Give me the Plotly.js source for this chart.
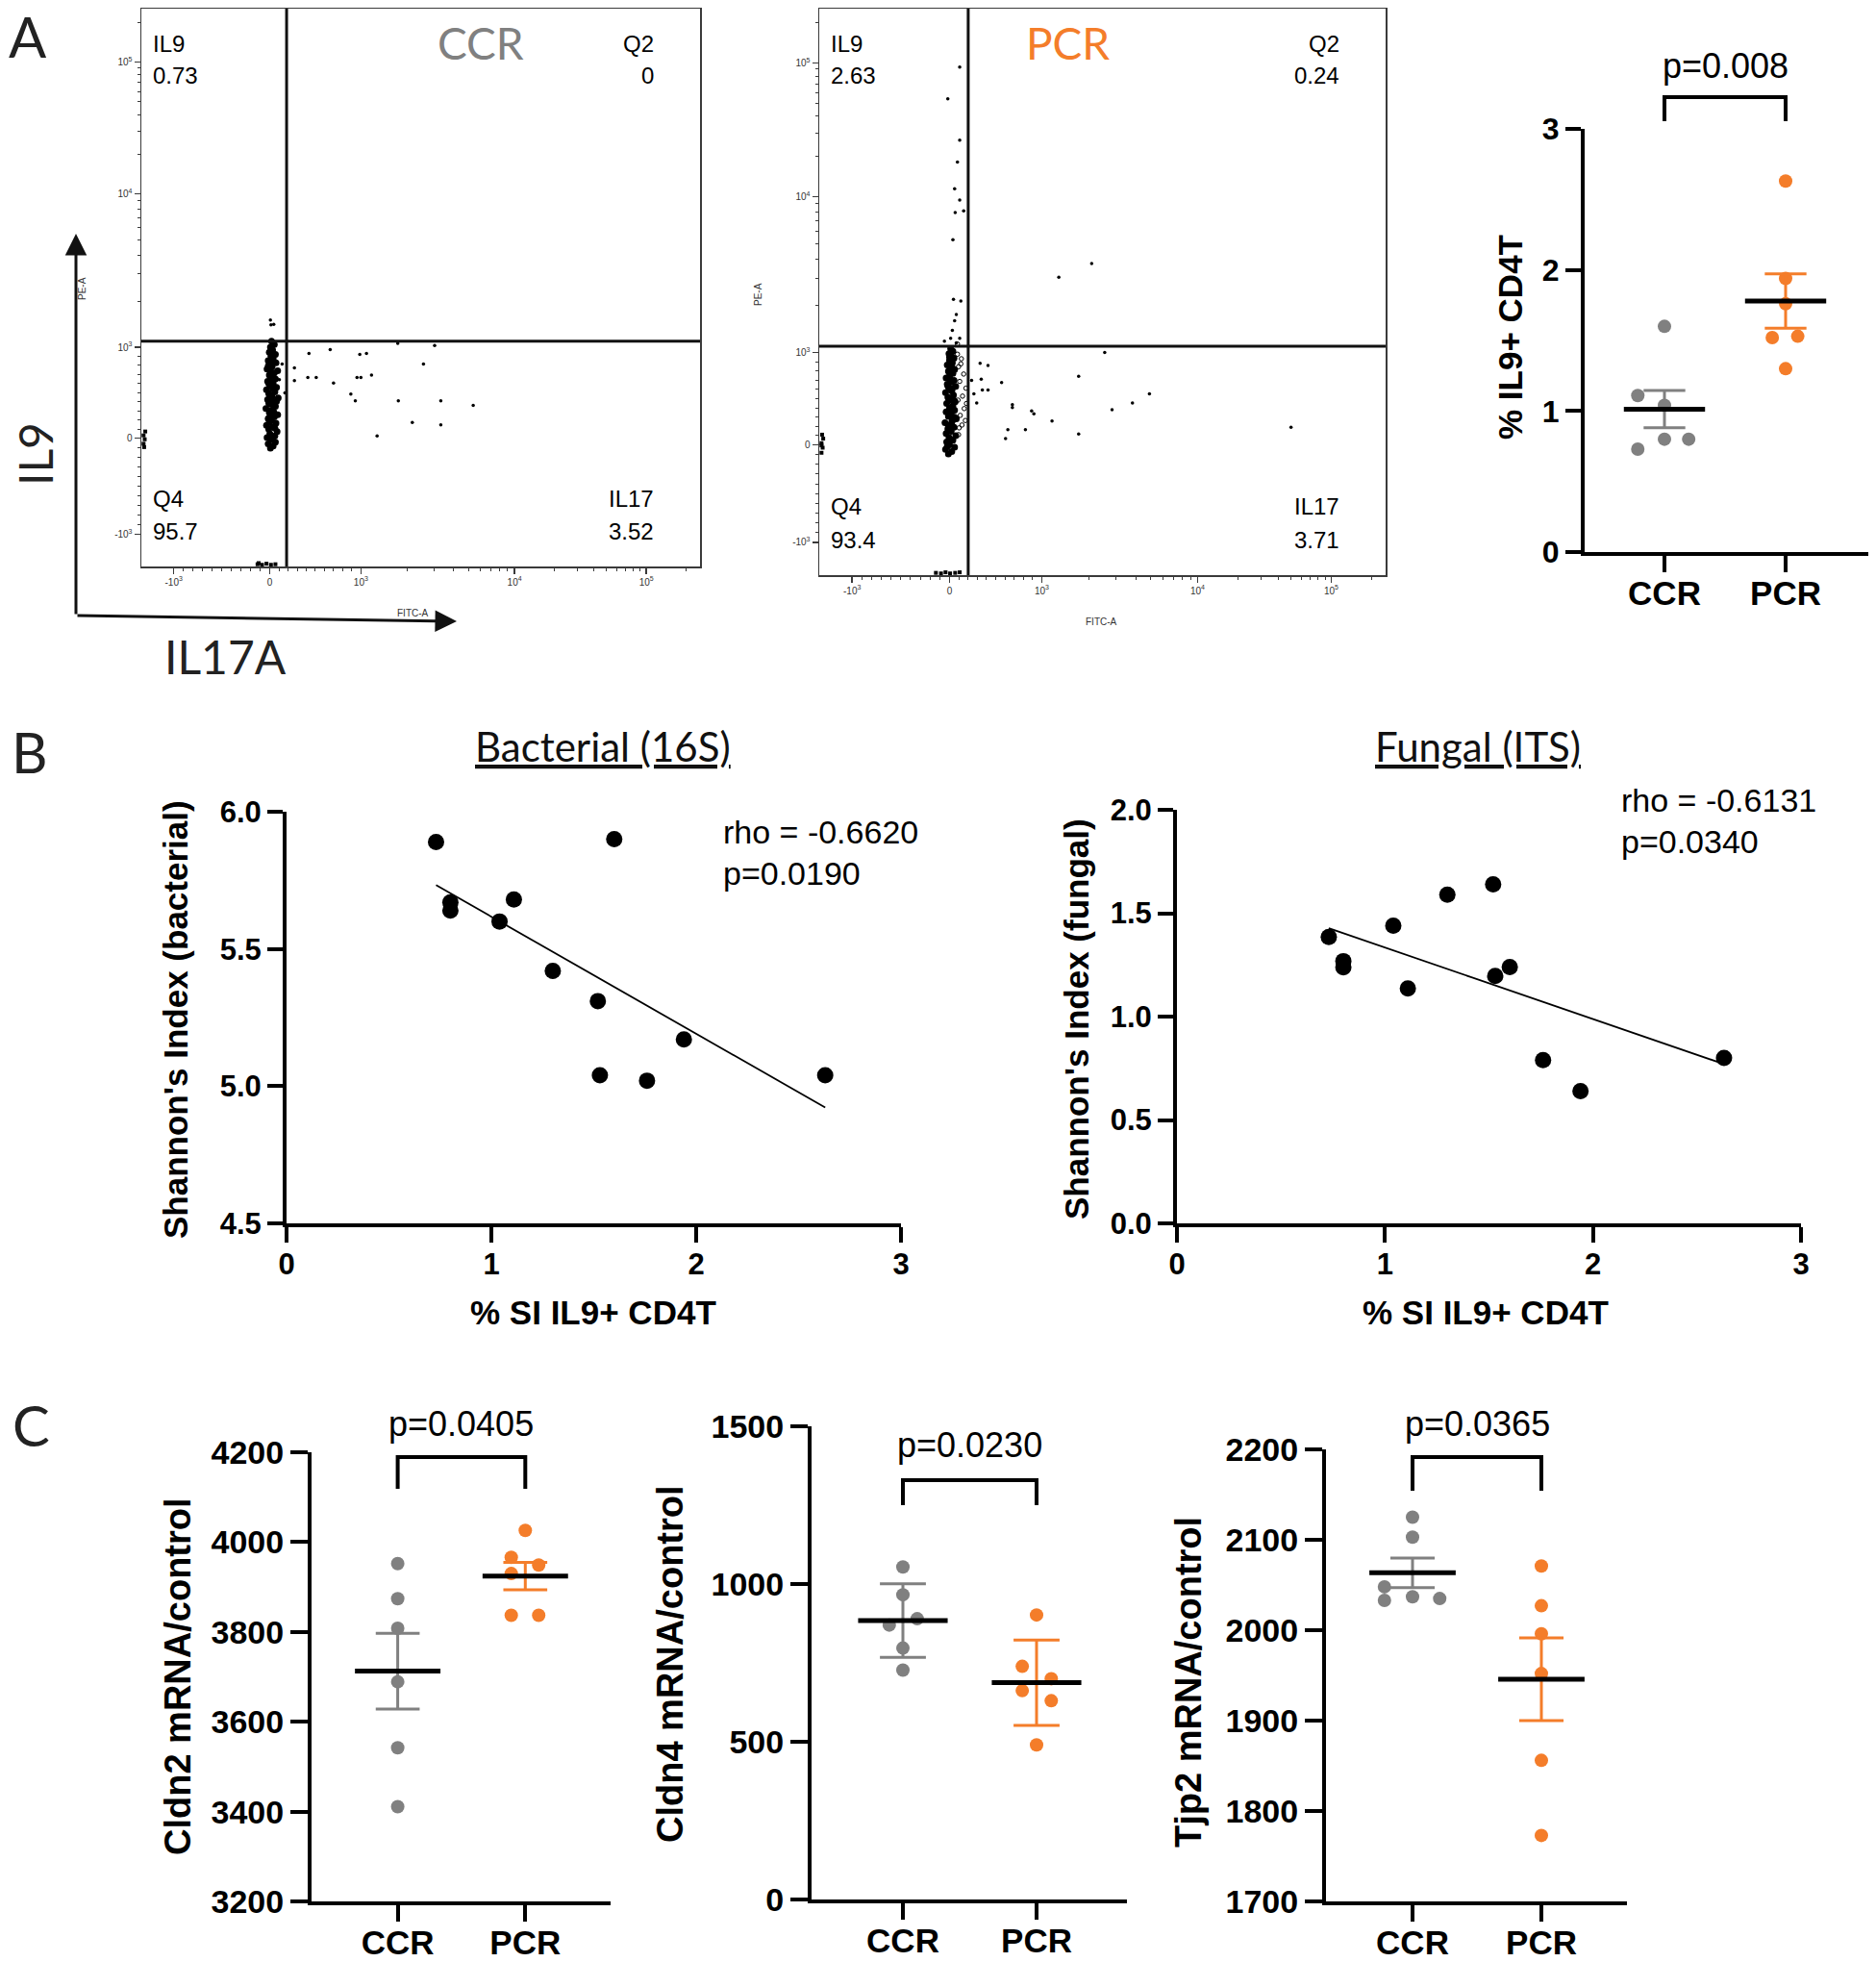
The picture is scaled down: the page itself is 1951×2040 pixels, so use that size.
<!DOCTYPE html>
<html><head><meta charset="utf-8">
<script src="https://cdn.plot.ly/plotly-3.0.1.min.js"></script>
<style>html,body{margin:0;padding:0;background:#fff;} #chart{width:1951px;height:2040px;}</style>
</head><body><div id="chart"></div>
<script>
// ================= DATA =================
const groups = ['CCR', 'PCR'];

// --- A: flow cytometry (display channel units, 0-100 of biexponential scale) ---
const flowTickPos  = [5.8, 23.0, 39.3, 66.8, 90.4];
const flowTickText = ['-10<sup>3</sup>', '0', '10<sup>3</sup>', '10<sup>4</sup>', '10<sup>5</sup>'];
const quadNames  = ['IL9', 'Q2', 'Q4', 'IL17'];
const ccrQuadPct = ['0.73', '0', '95.7', '3.52'];
const pcrQuadPct = ['2.63', '0.24', '93.4', '3.71'];
const ccrGate = [26.0, 40.4];
const pcrGate = [26.3, 40.4];

const ccrBlobX = [23.1,23.6,22.7,24.0,23.3,22.5,23.9,23.0,24.3,22.8,23.5,22.4,24.1,23.2,22.7,23.8,24.4,22.9,23.4,22.3,24.0,23.1,23.7,22.6,24.5,23.3,22.8,23.9,22.4,24.2,23.0,23.6,22.6,24.0,23.2,22.9,23.8,24.4,22.5,23.4,23.0,24.1,22.7,23.6,23.2,24.0,22.9,23.5,23.1,23.8,23.3,23.5,22.9,23.7,23.0,23.5,23.4,23.1,23.3,22.8,24.2,23.9,23.2,23.7,22.8,23.6,23.1,23.9,22.7,23.4,23.0,23.6];
const ccrBlobY = [21.2,21.6,22.0,22.3,22.7,23.1,23.4,23.8,24.2,24.6,25.0,25.3,25.7,26.1,26.5,26.8,27.2,27.6,28.0,28.3,28.7,29.1,29.5,29.9,30.2,30.6,31.0,31.3,31.7,32.1,32.5,32.8,33.2,33.6,34.0,34.3,34.7,35.1,35.4,35.8,36.2,36.5,36.9,37.3,37.7,38.0,38.4,38.8,39.3,39.8,40.4,22.9,25.8,27.7,30.2,31.8,33.5,35.2,37.0,32.8,29.6,24.8,26.9,28.9,29.3,32.3,34.6,31.9,35.9,30.4,27.9,36.8];
const ccrSparseX = [27.4,30.0,27.4,29.8,31.3,33.8,34.4,37.5,38.3,39.1,40.3,38.6,39.3,41.2,42.2,45.9,46.0,48.5,50.5,52.5,53.6,53.6,59.4,23.1,23.7,23.2,25.7,25.2,24.7];
const ccrSparseY = [35.6,38.2,33.3,33.9,33.9,38.9,32.9,30.9,29.7,38.0,38.2,33.9,33.9,34.3,23.4,40.0,29.7,25.8,36.3,39.6,29.7,25.4,28.9,44.2,43.4,43.3,31.1,36.3,33.5];
const ccrEdgeX = [0.4,0.6,0.4,0.7,0.5,20.8,21.6,22.4,23.2,24.0,21.0];
const ccrEdgeY = [22.0,22.8,23.5,24.2,21.4,0.4,0.3,0.5,0.3,0.4,0.6];

const pcrBlobX = [22.8,23.4,22.3,23.9,23.0,22.5,23.6,22.9,24.1,22.4,23.3,22.7,23.8,23.1,22.2,23.5,24.2,22.8,23.3,22.4,23.9,23.0,23.6,22.5,24.0,23.2,22.7,23.7,22.3,23.4,22.9,24.1,22.6,23.3,23.8,22.4,23.0,23.6,22.8,23.9,23.2,22.6,23.5,23.0,23.8,23.3,22.9,23.6,23.2,23.1,23.4,22.9,23.5,23.2,23.0,22.6,23.9,23.3,22.8,23.6,23.1,22.7,23.4];
const pcrBlobY = [21.4,21.8,22.2,22.6,23.0,23.5,23.8,24.3,24.6,25.0,25.4,25.8,26.1,26.5,26.9,27.3,27.6,28.0,28.4,28.8,29.1,29.5,29.9,30.3,30.6,31.0,31.4,31.8,32.2,32.5,32.9,33.3,33.7,34.1,34.4,34.8,35.2,35.6,36.0,36.3,36.7,37.1,37.5,37.9,38.3,38.7,39.1,39.5,40.0,24.0,27.0,30.8,33.0,35.9,38.5,22.7,27.9,29.3,26.3,31.2,34.6,33.4,36.9];
const pcrFringeX = [24.6,25.2,24.9,25.6,24.5,25.3,25.9,24.8,25.5,24.6,25.1,24.4,25.8,24.7,26.0,25.0,24.4];
const pcrFringeY = [24.8,26.5,28.2,29.4,30.9,31.6,33.0,34.2,35.5,36.8,38.2,39.0,27.3,26.0,30.3,37.3,40.8];
const pcrSparseX = [24.8,22.7,24.8,24.4,23.9,24.8,24.0,25.5,23.6,23.7,25.0,24.2,23.9,23.5,23.2,24.8,22.1,24.2,42.3,48.1,28.4,29.8,50.4,26.9,28.6,32.2,45.8,28.8,29.8,27.3,58.3,27.8,34.1,34.1,55.3,37.5,37.9,51.7,41.1,36.4,33.3,83.3,32.9,45.8];
const pcrSparseY = [89.7,84.1,76.8,72.9,68.2,66.2,64.0,64.3,59.2,48.7,48.4,46.0,44.9,43.2,41.8,41.8,41.3,41.0,52.6,55.0,37.4,37.0,39.3,34.4,34.6,34.0,35.1,32.7,32.7,32.0,32.0,30.4,30.1,29.6,30.4,29.0,28.5,29.2,27.2,25.7,25.7,26.1,24.1,24.9];
const pcrEdgeX = [0.4,0.6,0.4,0.7,0.5,0.4,20.6,21.5,22.3,23.1,24.0,24.8];
const pcrEdgeY = [21.6,22.5,23.3,24.1,24.8,22.9,0.4,0.3,0.5,0.3,0.4,0.5];

// --- A: % IL9+ CD4T ---
const il9CCR = [1.60, 1.11, 1.04, 0.73, 0.80, 0.80];
const il9CCRSpread = [0, -0.22, 0, -0.22, 0, 0.20];
const il9PCR = [2.63, 1.94, 1.76, 1.52, 1.53, 1.30];
const il9PCRSpread = [0, 0, 0, -0.11, 0.10, 0];
const il9P = 'p=0.008';

// --- B: Shannon index vs % SI IL9+ CD4T ---
const siIL9 = [0.73, 0.80, 0.80, 1.04, 1.11, 1.30, 1.52, 1.53, 1.60, 1.76, 1.94, 2.63];
const shannonBact = [5.89, 5.67, 5.64, 5.60, 5.68, 5.42, 5.31, 5.04, 5.90, 5.02, 5.17, 5.04];
const shannonFungal = [1.385, 1.268, 1.238, 1.44, 1.136, 1.59, 1.64, 1.196, 1.24, 0.79, 0.64, 0.80];
const bactStats = ['rho = -0.6620', 'p=0.0190'];
const fungalStats = ['rho = -0.6131', 'p=0.0340'];

// --- C: tight junction mRNA ---
const cldn2CCR = [3952, 3874, 3808, 3689, 3542, 3411];
const cldn2CCRSpread = [0, 0, 0, 0, 0, 0];
const cldn2PCR = [4026, 3966, 3949, 3930, 3837, 3837];
const cldn2PCRSpread = [0, -0.11, 0.105, -0.11, -0.11, 0.105];
const cldn4CCR = [1054, 966, 890, 870, 797, 727];
const cldn4CCRSpread = [0, 0, 0.107, -0.102, 0, 0];
const cldn4PCR = [902, 739, 700, 662, 630, 490];
const cldn4PCRSpread = [0, -0.107, 0.11, -0.107, 0.11, 0];
const tjp2CCR = [2125, 2103, 2048, 2033, 2037, 2035];
const tjp2CCRSpread = [0, 0, -0.218, -0.218, 0, 0.211];
const tjp2PCR = [2071, 2027, 1996, 1952, 1856, 1773];
const tjp2PCRSpread = [0, 0, 0, 0, 0, 0];
const cPvals = ['p=0.0405', 'p=0.0230', 'p=0.0365'];

// ================= STYLE / LAYOUT HELPERS =================
const W = 1951, H = 2040;
const fx = v => v / W;
const fy = v => 1 - v / H;
const GREY = '#808080', ORANGE = '#F47D2A';
const GP = 'Liberation Sans, Arial, sans-serif';
const CAL = 'Lato, sans-serif';

function mean(a) { return a.reduce((s, v) => s + v, 0) / a.length; }
function sd(a) { const m = mean(a); return Math.sqrt(a.reduce((s, v) => s + (v - m) * (v - m), 0) / (a.length - 1)); }
function sem(a) { return sd(a) / Math.sqrt(a.length); }

function flowMinors() {
  const p = flowTickPos, out = [];
  for (let i = 1; i <= 9; i++) { out.push(p[1] - i / 10 * (p[1] - p[0])); out.push(p[1] + i / 10 * (p[2] - p[1])); }
  for (let k = 2; k <= 9; k++) {
    out.push(p[2] + Math.log10(k) * (p[3] - p[2]));
    out.push(p[3] + Math.log10(k) * (p[4] - p[3]));
    const q = p[4] + Math.log10(k) * (p[4] - p[3]);
    if (q < 100) out.push(q);
  }
  return out;
}

function flowAxis(domain, anchor) {
  return {domain: domain, anchor: anchor, range: [0, 100], showline: true, mirror: true, linewidth: 1.5, linecolor: '#3a3a3a',
    ticks: 'outside', ticklen: 6, tickwidth: 1.5, tickcolor: '#3a3a3a', tickmode: 'array', tickvals: flowTickPos, ticktext: flowTickText,
    tickfont: {family: GP, size: 10, color: '#333'}, showgrid: false, zeroline: false, fixedrange: true,
    minor: {tickmode: 'array', tickvals: flowMinors(), ticks: 'outside', ticklen: 3, tickwidth: 1, tickcolor: '#3a3a3a', showgrid: false}};
}

function gpAxis(extra) {
  return Object.assign({showline: true, linewidth: 4, linecolor: '#000', ticks: 'outside', ticklen: 16, tickwidth: 4, tickcolor: '#000',
    showgrid: false, zeroline: false, fixedrange: true, tickfont: {family: GP, size: 31, color: '#000', weight: 'bold'}}, extra);
}
const catFont = {family: GP, size: 35, color: '#000', weight: 'bold'};
const cYFont = {family: GP, size: 34, color: '#000', weight: 'bold'};

// axis pixel frames [left, right, top, bottom]
const frames = {
  1: [147, 728, 9, 589],
  2: [852, 1441, 9, 598],
  3: [1648, 1943, 134, 574],
  4: [298, 937, 844, 1272],
  5: [1224, 1873, 842, 1272],
  6: [324, 635, 1510, 1977],
  7: [844, 1172, 1483, 1975],
  8: [1379, 1692, 1507, 1977]
};
function xd(k) { return [fx(frames[k][0]), fx(frames[k][1])]; }
function yd(k) { return [fy(frames[k][3]), fy(frames[k][2])]; }

const traces = [];
const annotations = [];
const shapes = [];

function txt(text, x, y, size, opts) {
  annotations.push(Object.assign({text: text, xref: 'paper', yref: 'paper', x: fx(x), y: fy(y), showarrow: false,
    xanchor: 'center', yanchor: 'middle', font: {family: GP, size: size, color: '#000'}}, opts || {}));
}

// ================= A: flow plots =================
function flowTraces(ax, blobX, blobY, sparseX, sparseY, edgeX, edgeY, fringeX, fringeY) {
  const xa = 'x' + (ax === 1 ? '' : ax), ya = 'y' + (ax === 1 ? '' : ax);
  if (fringeX) traces.push({type: 'scatter', mode: 'markers', x: fringeX, y: fringeY, xaxis: xa, yaxis: ya, marker: {size: 4.5, color: '#000', symbol: 'circle-open', line: {width: 1}}, hoverinfo: 'skip'});
  traces.push({type: 'scatter', mode: 'markers', x: blobX, y: blobY, xaxis: xa, yaxis: ya, marker: {size: 7, color: '#000'}, hoverinfo: 'skip'});
  traces.push({type: 'scatter', mode: 'markers', x: sparseX, y: sparseY, xaxis: xa, yaxis: ya, marker: {size: 3.5, color: '#000'}, hoverinfo: 'skip'});
  traces.push({type: 'scatter', mode: 'markers', x: edgeX, y: edgeY, xaxis: xa, yaxis: ya, marker: {size: 4, color: '#000', symbol: 'square'}, hoverinfo: 'skip', cliponaxis: false});
}
flowTraces(1, ccrBlobX, ccrBlobY, ccrSparseX, ccrSparseY, ccrEdgeX, ccrEdgeY);
flowTraces(2, pcrBlobX, pcrBlobY, pcrSparseX, pcrSparseY, pcrEdgeX, pcrEdgeY, pcrFringeX, pcrFringeY);

[[1, ccrGate], [2, pcrGate]].forEach(([k, g]) => {
  const s = k === 1 ? '' : k;
  shapes.push({type: 'line', xref: 'x' + s, yref: 'y' + s + ' domain', x0: g[0], x1: g[0], y0: 0, y1: 1, line: {color: '#111', width: 3}});
  shapes.push({type: 'line', xref: 'x' + s + ' domain', yref: 'y' + s, x0: 0, x1: 1, y0: g[1], y1: g[1], line: {color: '#111', width: 3}});
});

function quadLabels(f, pct, dy) {
  const L = frames[f][0] + 10, R = frames[f][1] - 46;
  txt(quadNames[0], L, 45, 24, {xanchor: 'left'});
  txt(pct[0], L, 79, 24, {xanchor: 'left'});
  txt(quadNames[1], R, 45, 24, {xanchor: 'right'});
  txt(pct[1], R, 79, 24, {xanchor: 'right'});
  txt(quadNames[2], L, 518 + dy, 24, {xanchor: 'left'});
  txt(pct[2], L, 553 + dy, 24, {xanchor: 'left'});
  txt(quadNames[3], R, 518 + dy, 24, {xanchor: 'right'});
  txt(pct[3], R, 553 + dy, 24, {xanchor: 'right'});
}
quadLabels(1, ccrQuadPct, 0);
quadLabels(2, pcrQuadPct, 8);
txt(groups[0], 500, 44, 46, {font: {family: CAL, size: 46, color: GREY}});
txt(groups[1], 1110, 44, 46, {font: {family: CAL, size: 46, color: ORANGE}});
txt('PE-A', 85, 300, 10, {textangle: -90, font: {family: GP, size: 10, color: '#333'}});
txt('FITC-A', 429, 637, 10, {font: {family: GP, size: 10, color: '#333'}});
txt('PE-A', 788, 306, 10, {textangle: -90, font: {family: GP, size: 10, color: '#333'}});
txt('FITC-A', 1145, 646, 10, {font: {family: GP, size: 10, color: '#333'}});

annotations.push({xref: 'paper', yref: 'paper', x: fx(79), y: fy(243), ax: 0, ay: 397, text: '', showarrow: true, arrowhead: 2, arrowsize: 1.5, arrowwidth: 3, arrowcolor: '#111', standoff: 0});
annotations.push({xref: 'paper', yref: 'paper', x: fx(475), y: fy(646), ax: -396, ay: -6, text: '', showarrow: true, arrowhead: 2, arrowsize: 1.5, arrowwidth: 3, arrowcolor: '#111', standoff: 0});
txt('IL9', 36, 472, 48, {textangle: -90, font: {family: CAL, size: 48, color: '#222'}});
txt('IL17A', 234, 683, 48, {font: {family: CAL, size: 48, color: '#222'}});

txt('A', 29, 37, 58, {font: {family: CAL, size: 58, color: '#222'}});
txt('B', 31, 781, 58, {font: {family: CAL, size: 58, color: '#222'}});
txt('C', 32, 1481, 58, {font: {family: CAL, size: 58, color: '#222'}});

// ================= dot plots (A right, C) =================
function catRange(k, ccrPx, pcrPx) {
  const f = frames[k], u = pcrPx - ccrPx;
  return [-(ccrPx - f[0]) / u, 1 + (f[1] - pcrPx) / u];
}
function catAxis(k, ccrPx, pcrPx) {
  return gpAxis({domain: xd(k), anchor: 'y' + k, range: catRange(k, ccrPx, pcrPx), tickmode: 'array', tickvals: [0, 1], ticktext: groups,
    ticklen: 17, tickfont: catFont, ticklabelstandoff: -8});
}

const layout = {
  width: W, height: H, margin: {l: 0, r: 0, t: 0, b: 0}, paper_bgcolor: '#fff', plot_bgcolor: 'rgba(0,0,0,0)', showlegend: false,
  xaxis: flowAxis(xd(1), 'y'), yaxis: flowAxis(yd(1), 'x'),
  xaxis2: flowAxis(xd(2), 'y2'), yaxis2: flowAxis(yd(2), 'x2'),
  xaxis3: catAxis(3, 1731, 1857),
  yaxis3: gpAxis({domain: yd(3), anchor: 'x3', range: [0, 3], dtick: 1, tick0: 0, tickfont: {family: GP, size: 32, color: '#000', weight: 'bold'}}),
  xaxis4: gpAxis({domain: xd(4), anchor: 'y4', range: [0, 3], dtick: 1, tick0: 0, ticklabelstandoff: -4}),
  yaxis4: gpAxis({domain: yd(4), anchor: 'x4', range: [4.5, 6.0], dtick: 0.5, tick0: 4.5, tickformat: '.1f'}),
  xaxis5: gpAxis({domain: xd(5), anchor: 'y5', range: [0, 3], dtick: 1, tick0: 0, ticklabelstandoff: -4}),
  yaxis5: gpAxis({domain: yd(5), anchor: 'x5', range: [0, 2.0], dtick: 0.5, tick0: 0, tickformat: '.1f'}),
  xaxis6: catAxis(6, 413.6, 546.3),
  yaxis6: gpAxis({domain: yd(6), anchor: 'x6', range: [3200, 4200], dtick: 200, tick0: 3200, ticklen: 18, tickfont: cYFont}),
  xaxis7: catAxis(7, 939, 1078),
  yaxis7: gpAxis({domain: yd(7), anchor: 'x7', range: [0, 1500], dtick: 500, tick0: 0, ticklen: 18, tickfont: cYFont}),
  xaxis8: catAxis(8, 1469, 1603),
  yaxis8: gpAxis({domain: yd(8), anchor: 'x8', range: [1700, 2200], dtick: 100, tick0: 1700, ticklen: 18, tickfont: cYFont}),
  annotations: annotations, shapes: shapes
};

function dotPanel(k, ccr, ccrS, pcr, pcrS, errFn, pTxt, brTop, brBot, pY) {
  const xa = 'x' + k, ya = 'y' + k;
  const f = frames[k];
  traces.push({type: 'scatter', mode: 'markers', x: ccr.map((v, i) => 0 + ccrS[i]), y: ccr, xaxis: xa, yaxis: ya, marker: {size: 14, color: GREY}, hoverinfo: 'skip', cliponaxis: false});
  traces.push({type: 'scatter', mode: 'markers', x: pcr.map((v, i) => 1 + pcrS[i]), y: pcr, xaxis: xa, yaxis: ya, marker: {size: 14, color: ORANGE}, hoverinfo: 'skip', cliponaxis: false});
  const m0 = mean(ccr), m1 = mean(pcr);
  const r = layout['xaxis' + k].range;
  const cap = 0.172 * (f[1] - f[0]) / (r[1] - r[0]);
  traces.push({type: 'scatter', mode: 'markers', x: [0], y: [m0], xaxis: xa, yaxis: ya, marker: {size: 1, color: 'rgba(0,0,0,0)'},
    error_y: {type: 'data', array: [errFn(ccr)], color: GREY, thickness: 3, width: cap}, hoverinfo: 'skip'});
  traces.push({type: 'scatter', mode: 'markers', x: [1], y: [m1], xaxis: xa, yaxis: ya, marker: {size: 1, color: 'rgba(0,0,0,0)'},
    error_y: {type: 'data', array: [errFn(pcr)], color: ORANGE, thickness: 3, width: cap}, hoverinfo: 'skip'});
  const hw = 0.335;
  traces.push({type: 'scatter', mode: 'lines', x: [-hw, hw, null, 1 - hw, 1 + hw], y: [m0, m0, null, m1, m1], xaxis: xa, yaxis: ya,
    line: {color: '#000', width: 5}, hoverinfo: 'skip'});
  shapes.push({type: 'path', xref: xa, yref: 'paper', path: `M 0,${fy(brBot)} L 0,${fy(brTop)} L 1,${fy(brTop)} L 1,${fy(brBot)}`,
    line: {color: '#000', width: 4}});
  annotations.push({text: pTxt, xref: xa, yref: 'paper', x: 0.5, y: fy(pY), showarrow: false, xanchor: 'center', yanchor: 'middle',
    font: {family: GP, size: 36, color: '#000'}});
}

dotPanel(3, il9CCR, il9CCRSpread, il9PCR, il9PCRSpread, sem, il9P, 101, 126, 69);
dotPanel(6, cldn2CCR, cldn2CCRSpread, cldn2PCR, cldn2PCRSpread, sem, cPvals[0], 1515, 1548, 1480);
dotPanel(7, cldn4CCR, cldn4CCRSpread, cldn4PCR, cldn4PCRSpread, sd, cPvals[1], 1539, 1565, 1502);
dotPanel(8, tjp2CCR, tjp2CCRSpread, tjp2PCR, tjp2PCRSpread, sem, cPvals[2], 1515, 1550, 1480);

txt('% IL9+ CD4T', 1570, 351, 35, {textangle: -90, font: {family: GP, size: 35, color: '#000', weight: 'bold'}});
txt('Cldn2 mRNA/control', 185, 1743, 38, {textangle: -90, font: {family: GP, size: 38, color: '#000', weight: 'bold'}});
txt('Cldn4 mRNA/control', 697, 1730, 38, {textangle: -90, font: {family: GP, size: 38, color: '#000', weight: 'bold'}});
txt('Tjp2 mRNA/control', 1236, 1749, 38, {textangle: -90, font: {family: GP, size: 38, color: '#000', weight: 'bold'}});

// ================= B: correlations =================
function corrPanel(k, xs, ys, stats, title, titleX, statX, statY, yTitle, yTitleX, xTitleX) {
  const xa = 'x' + k, ya = 'y' + k;
  traces.push({type: 'scatter', mode: 'markers', x: xs, y: ys, xaxis: xa, yaxis: ya, marker: {size: 17, color: '#000'}, hoverinfo: 'skip', cliponaxis: false});
  const mx = mean(xs), my = mean(ys);
  let sxy = 0, sxx = 0;
  xs.forEach((x, i) => { sxy += (x - mx) * (ys[i] - my); sxx += (x - mx) * (x - mx); });
  const b = sxy / sxx, a = my - b * mx;
  const x0 = Math.min(...xs), x1 = Math.max(...xs);
  traces.push({type: 'scatter', mode: 'lines', x: [x0, x1], y: [a + b * x0, a + b * x1], xaxis: xa, yaxis: ya, line: {color: '#000', width: 1.8}, hoverinfo: 'skip'});
  txt('<u>' + title + '</u>', titleX, 776, 42, {font: {family: CAL, size: 42, color: '#111'}});
  txt(stats[0], statX, statY, 34, {xanchor: 'left'});
  txt(stats[1], statX, statY + 43, 34, {xanchor: 'left'});
  txt(yTitle, yTitleX, 1060, 35, {textangle: -90, font: {family: GP, size: 35, color: '#000', weight: 'bold'}});
  txt('% SI IL9+ CD4T', xTitleX, 1364, 35, {font: {family: GP, size: 35, color: '#000', weight: 'bold'}});
}
corrPanel(4, siIL9, shannonBact, bactStats, 'Bacterial (16S)', 627, 750, 865, "Shannon's Index (bacterial)", 182, 617);
corrPanel(5, siIL9, shannonFungal, fungalStats, 'Fungal (ITS)', 1537, 1684, 832, "Shannon's Index (fungal)", 1119, 1545);

Plotly.newPlot('chart', traces, layout, {displayModeBar: false, staticPlot: true});
</script>
</body></html>
